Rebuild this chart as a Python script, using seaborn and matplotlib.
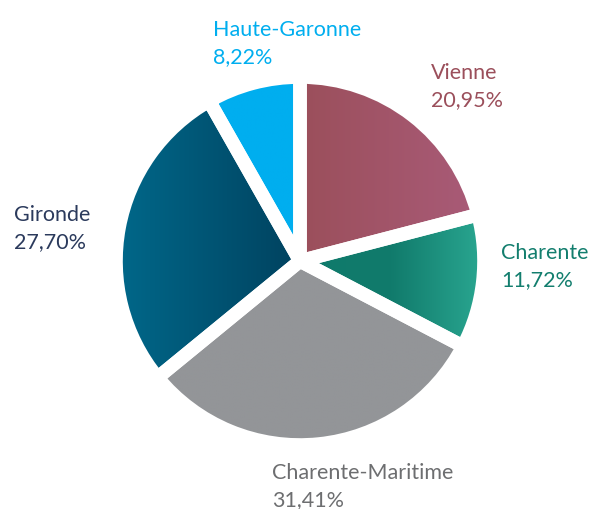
import matplotlib
matplotlib.use("Agg")
import matplotlib.pyplot as plt
import numpy as np
import seaborn as sns

# donnees
regions = ["Vienne", "Charente", "Charente-Maritime", "Gironde", "Haute-Garonne"]
parts = [20.95, 11.72, 31.41, 27.70, 8.22]

# degradés (gauche -> droite) et couleurs de texte
degrades = [
    ["#9b4f5b", "#a95b78"],
    ["#0f7a6b", "#117b6c", "#2aa791"],
    ["#939598", "#939598"],
    ["#00688a", "#00425f"],
    ["#00aeef", "#00aeef"],
]
couleurs_texte = ["#9b4f5b", "#137e6e", "#6d6e70", "#2b3a5c", "#00aeef"]

# position des etiquettes (pixels, x gauche, ligne de base de la 1re ligne)
pos_etiquettes = [(431, 79), (501, 259), (272, 479), (14, 221), (213, 36)]

sns.set_theme(style="white")
plt.rcParams["font.family"] = ["Lato", "DejaVu Sans"]

W, H = 589, 509
cx, cy, rayon = 300, 261, 184

fig = plt.figure(figsize=(W / 100, H / 100), dpi=100, facecolor="white")
ax = fig.add_axes([0, 0, 1, 1])

wedges, _ = ax.pie(parts, startangle=90, counterclock=False, radius=1,
                   wedgeprops=dict(facecolor="none", edgecolor="none"))

grad = np.linspace(0, 1, 256).reshape(1, -1)
for w, cols in zip(wedges, degrades):
    cmap = sns.blend_palette(cols, as_cmap=True)
    bb = w.get_path().get_extents(w.get_transform() - ax.transData)
    im = ax.imshow(grad, cmap=cmap, aspect="auto", interpolation="bilinear",
                   extent=[bb.x0, bb.x1, bb.y0, bb.y1], zorder=1)
    im.set_clip_path(w)

# bordures blanches entre les parts
ax.pie(parts, startangle=90, counterclock=False, radius=1,
       wedgeprops=dict(facecolor="none", edgecolor="white", linewidth=9.8,
                       joinstyle="round", zorder=3))
ax.set_xlim(-cx / rayon, (W - cx) / rayon)
ax.set_ylim(-(H - cy) / rayon, cy / rayon)
ax.set_aspect("equal")
ax.axis("off")

for nom, v, c, (px, py) in zip(regions, parts, couleurs_texte, pos_etiquettes):
    pct = f"{v:.2f}".replace(".", ",") + "%"
    fig.text(px / W, 1 - py / H, nom, color=c, fontsize=15.5, va="baseline", ha="left")
    fig.text(px / W, 1 - (py + 27.5) / H, pct, color=c, fontsize=15.5, va="baseline", ha="left")

fig.savefig("out.png", dpi=100, facecolor="white")
